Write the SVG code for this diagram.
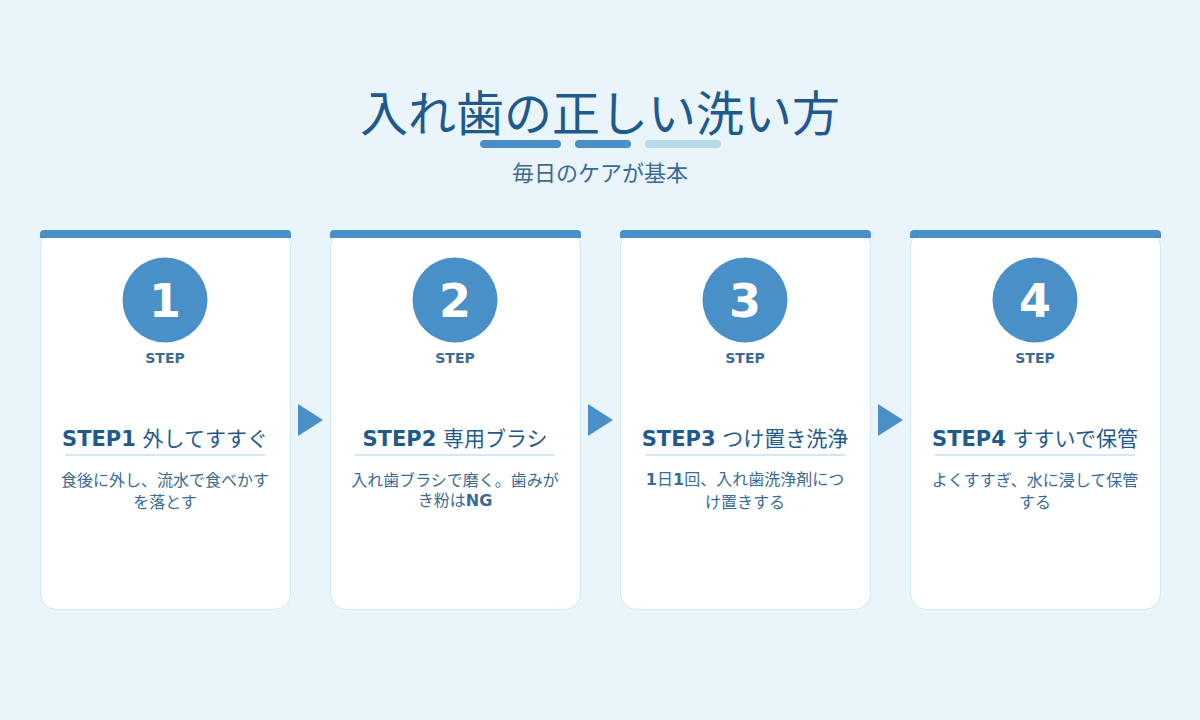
<svg xmlns="http://www.w3.org/2000/svg" width="1200" height="720" viewBox="0 0 1200 720">
<style>
text{font-family:"DejaVu Sans","Noto Sans CJK JP",sans-serif;text-anchor:middle}
.title{font-size:48px;fill:#1f5a8e}
.sub{font-size:22px;fill:#3a6a95}
.card{fill:#ffffff;stroke:#d3e7f4;stroke-width:1}
.bar{fill:#4a90c8}
.circ{fill:#4a90c8}
.num{font-size:46px;font-weight:bold;fill:#ffffff}
.step{font-size:14px;font-weight:bold;fill:#3a6a95}
.ct{font-size:21px;fill:#1f5a8e}
.ct .b{font-weight:bold}
.sep{stroke:#d3e7f4;stroke-width:2}
.desc{font-size:16px;fill:#3a6a95}
.desc .b{font-weight:bold}
.arrow{fill:#4a90c8}
</style>
<rect width="1200" height="720" fill="#eaf4fb"/>
<g id="header">
<text class="title" x="600" y="131">入れ歯の正しい洗い方</text>
<rect x="480" y="140" width="81" height="8" rx="4" fill="#4a90c8"/>
<rect x="575" y="140" width="56" height="8" rx="4" fill="#4a90c8"/>
<rect x="645" y="140" width="76" height="8" rx="4" fill="#b8d8ec"/>
<text class="sub" x="600" y="181">毎日のケアが基本</text>
</g>
<g id="step1">
<rect class="card" x="40.5" y="230.5" width="250" height="379" rx="16"/>
<path class="bar" d="M40,238 V234 a4,4 0 0 1 4,-4 H287 a4,4 0 0 1 4,4 V238 Z"/>
<circle class="circ" cx="165" cy="300" r="42.5"/>
<text class="num" x="165" y="317">1</text>
<text class="step" x="165" y="363">STEP</text>
<text class="ct" x="165" y="446"><tspan class="b">STEP1</tspan> 外してすすぐ</text>
<line class="sep" x1="65" y1="455" x2="265" y2="455"/>
<text class="desc" x="165" y="486">食後に外し、流水で食べかす</text>
<text class="desc" x="165" y="508">を落とす</text>
</g>
<g id="step2">
<rect class="card" x="330.5" y="230.5" width="250" height="379" rx="16"/>
<path class="bar" d="M330,238 V234 a4,4 0 0 1 4,-4 H577 a4,4 0 0 1 4,4 V238 Z"/>
<circle class="circ" cx="455" cy="300" r="42.5"/>
<text class="num" x="455" y="317">2</text>
<text class="step" x="455" y="363">STEP</text>
<text class="ct" x="455" y="446"><tspan class="b">STEP2</tspan> 専用ブラシ</text>
<line class="sep" x1="355" y1="455" x2="555" y2="455"/>
<text class="desc" x="455" y="486">入れ歯ブラシで磨く。歯みが</text>
<text class="desc" x="455" y="506">き粉は<tspan class="b">NG</tspan></text>
</g>
<g id="step3">
<rect class="card" x="620.5" y="230.5" width="250" height="379" rx="16"/>
<path class="bar" d="M620,238 V234 a4,4 0 0 1 4,-4 H867 a4,4 0 0 1 4,4 V238 Z"/>
<circle class="circ" cx="745" cy="300" r="42.5"/>
<text class="num" x="745" y="317">3</text>
<text class="step" x="745" y="363">STEP</text>
<text class="ct" x="745" y="446"><tspan class="b">STEP3</tspan> つけ置き洗浄</text>
<line class="sep" x1="645" y1="455" x2="845" y2="455"/>
<text class="desc" x="745" y="485"><tspan class="b">1</tspan>日<tspan class="b">1</tspan>回、入れ歯洗浄剤につ</text>
<text class="desc" x="745" y="508">け置きする</text>
</g>
<g id="step4">
<rect class="card" x="910.5" y="230.5" width="250" height="379" rx="16"/>
<path class="bar" d="M910,238 V234 a4,4 0 0 1 4,-4 H1157 a4,4 0 0 1 4,4 V238 Z"/>
<circle class="circ" cx="1035" cy="300" r="42.5"/>
<text class="num" x="1035" y="317">4</text>
<text class="step" x="1035" y="363">STEP</text>
<text class="ct" x="1035" y="446"><tspan class="b">STEP4</tspan> すすいで保管</text>
<line class="sep" x1="935" y1="455" x2="1135" y2="455"/>
<text class="desc" x="1035" y="486">よくすすぎ、水に浸して保管</text>
<text class="desc" x="1035" y="508">する</text>
</g>
<g id="connectors">
<polygon class="arrow" points="298,404 323,420 298,436"/>
<polygon class="arrow" points="588,404 613,420 588,436"/>
<polygon class="arrow" points="878,404 903,420 878,436"/>
</g>
</svg>
